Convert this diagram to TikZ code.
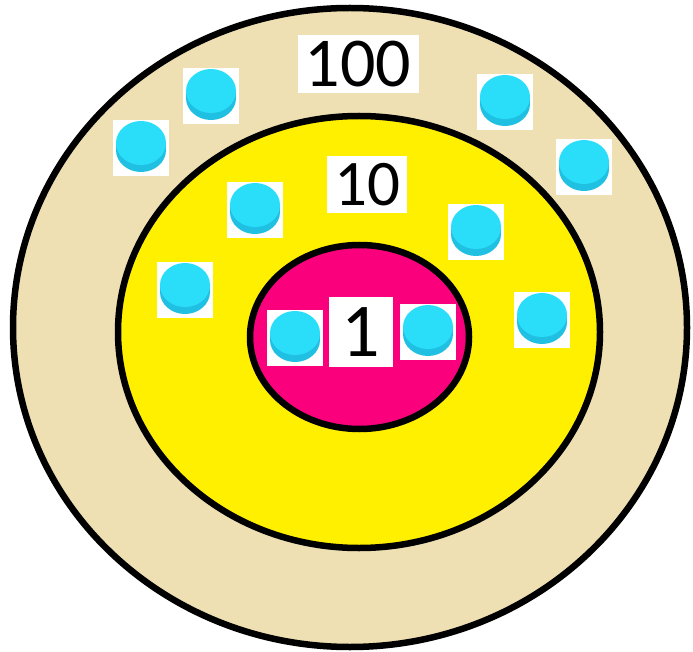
\documentclass[tikz,border=0pt]{standalone}
\usepackage{fontspec}
\setmainfont{Carlito}
\usetikzlibrary{positioning}
\definecolor{RingOut}{RGB}{238,224,178}
\definecolor{RingMid}{RGB}{255,240,0}
\definecolor{RingIn} {RGB}{250,0,125}
\definecolor{ChipTop}{RGB}{42,222,250}
\definecolor{ChipSide}{RGB}{32,192,226}
\tikzset{
  ring/.style={draw=black,line width=6.5pt},
  val/.style={fill=white,inner sep=0pt,text=black,align=center},
  chip/.style={fill=white,minimum size=56pt,inner sep=0pt,
    path picture={
      \begin{scope}[shift={(path picture bounding box.center)}]
        \fill[ChipSide](0,-2pt) ellipse (25pt and 22pt);
        \fill[ChipSide](-25pt,-2pt) rectangle (25pt,5pt);
        \fill[ChipTop](0,5pt) ellipse (25pt and 22pt);
      \end{scope}}},
}
\begin{document}
\begin{tikzpicture}[x=1pt,y=-1pt]
\useasboundingbox (0,0) rectangle (693,652);
% rings
\draw[ring,fill=RingOut] (350,327.5) ellipse (337 and 319.5);
\draw[ring,fill=RingMid] (359,332) ellipse (241 and 216);
\draw[ring,fill=RingIn]  (359.5,337) ellipse (109.5 and 92);
% place values
\node[val,minimum width=121pt,minimum height=58pt,font=\fontsize{70}{70}\selectfont] at (358,64)(V100){100};
\node[val,minimum width=80pt,minimum height=57pt,font=\fontsize{65}{65}\selectfont] at (367,185)(V10){10};
\node[val,minimum width=64pt,minimum height=70pt,font=\fontsize{76}{76}\selectfont] at (361,332)(V1){1};
% counters
\foreach \x/\y/\n in {211/96/C1,141/148/C2,505/102/C3,584/167/C4,
  255/210/C5,185/290/C6,476/232/C7,542/320/C8,295/338/C9,428/332/C10}{
  \node[chip] at (\x,\y)(\n){};}
\end{tikzpicture}
\end{document}
